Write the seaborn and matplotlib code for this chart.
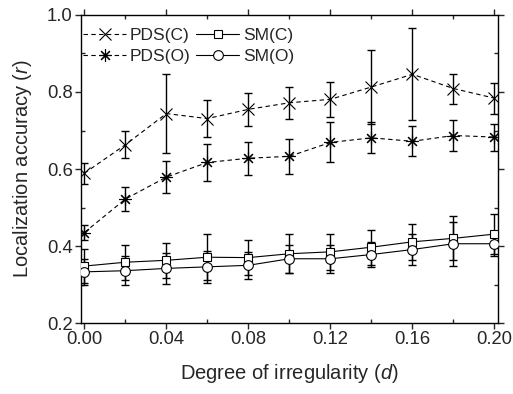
import numpy as np
import pandas as pd
import seaborn as sns
import matplotlib.pyplot as plt
from matplotlib.ticker import MultipleLocator

d = [0.00, 0.02, 0.04, 0.06, 0.08, 0.10, 0.12, 0.14, 0.16, 0.18, 0.20]

pds_c = [0.589, 0.663, 0.744, 0.731, 0.755, 0.772, 0.781, 0.813, 0.846, 0.809, 0.784]
pds_c_err = [0.027, 0.035, 0.103, 0.047, 0.043, 0.042, 0.045, 0.095, 0.120, 0.039, 0.040]

pds_o = [0.435, 0.522, 0.579, 0.617, 0.628, 0.633, 0.669, 0.681, 0.672, 0.687, 0.683]
pds_o_err = [0.019, 0.032, 0.042, 0.049, 0.043, 0.046, 0.052, 0.040, 0.039, 0.039, 0.035]

sm_c = [0.348, 0.358, 0.363, 0.371, 0.370, 0.380, 0.385, 0.397, 0.411, 0.420, 0.431]
sm_c_err = [0.045, 0.045, 0.045, 0.060, 0.045, 0.050, 0.047, 0.045, 0.047, 0.057, 0.052]

sm_o = [0.333, 0.336, 0.342, 0.346, 0.350, 0.367, 0.367, 0.378, 0.391, 0.406, 0.406]
sm_o_err = [0.034, 0.038, 0.040, 0.042, 0.035, 0.037, 0.036, 0.033, 0.040, 0.057, 0.033]

dash = (0, (4, 3))
# legend fills column by column: PDS in first column, SM in second
series = {
    'PDS(C)': (pds_c, pds_c_err, 'x', dash, 9, 'k'),
    'PDS(O)': (pds_o, pds_o_err, (8, 2, 0), dash, 9, 'k'),
    'SM(C)': (sm_c, sm_c_err, 's', '-', 6, 'white'),
    'SM(O)': (sm_o, sm_o_err, 'o', '-', 7, 'white'),
}

sns.set_style("ticks")
plt.rcParams['font.family'] = ['Liberation Sans', 'DejaVu Sans']
plt.rcParams['mathtext.fontset'] = 'custom'
plt.rcParams['mathtext.it'] = 'Liberation Sans:italic'
plt.rcParams['mathtext.rm'] = 'Liberation Sans'

fig = plt.figure(figsize=(5.13, 3.94), dpi=100)
ax = fig.add_axes([0.158, 0.180, 0.813, 0.782])

for name, (vals, err, mk, ls, ms, fc) in series.items():
    df = pd.DataFrame({'d': d, 'r': vals})
    ax.errorbar(d, vals, yerr=err, fmt='none', ecolor='k', elinewidth=1,
                capsize=3, capthick=1, zorder=2)
    sns.lineplot(data=df, x='d', y='r', ax=ax, color='k', linestyle=ls,
                 linewidth=0.8, marker=mk, markersize=ms, markerfacecolor=fc,
                 markeredgecolor='k', markeredgewidth=0.8, label=name, zorder=3)

ax.set_xlim(-0.0016, 0.2018)
ax.set_ylim(0.2, 1.0)
ax.xaxis.set_major_locator(MultipleLocator(0.04))
ax.xaxis.set_minor_locator(MultipleLocator(0.02))
ax.yaxis.set_major_locator(MultipleLocator(0.2))
ax.yaxis.set_minor_locator(MultipleLocator(0.1))
ax.set_xticklabels([f"{v:.2f}" for v in ax.get_xticks()])
ax.set_yticklabels([f"{v:.1f}" for v in ax.get_yticks()])

ax.tick_params(which='major', direction='out', length=4, width=1, labelsize=13.3,
               top=True, right=True, pad=2)
ax.tick_params(which='minor', direction='in', length=3, width=1, top=True, right=True)
for s in ax.spines.values():
    s.set_linewidth(1)
    s.set_color('k')

ax.set_xlabel(r'Degree of irregularity ($\mathit{d}$)', fontsize=14.5, labelpad=10)
ax.set_ylabel(r'Localization accuracy ($\mathit{r}$)', fontsize=14.5, labelpad=9)

ax.legend(ncol=2, loc='upper left', bbox_to_anchor=(-0.012, 0.98), frameon=False,
          fontsize=12.5, handlelength=2.5, handletextpad=0.2, columnspacing=0.3,
          borderaxespad=0.2, borderpad=0.2, labelspacing=0.3)

fig.savefig('out.png', dpi=100)
